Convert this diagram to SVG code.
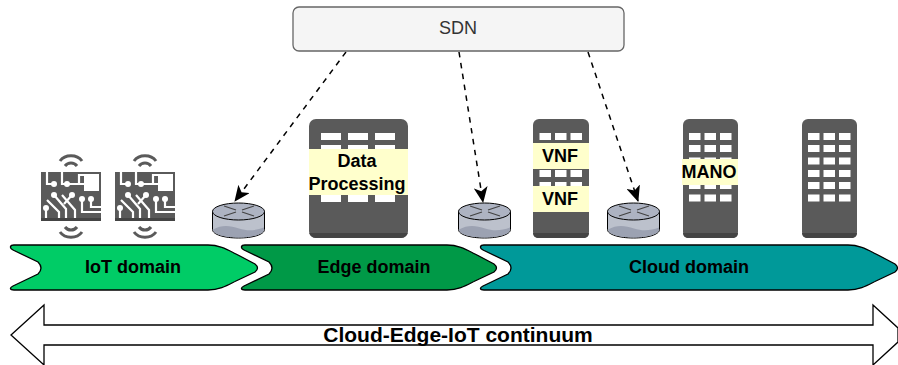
<svg xmlns="http://www.w3.org/2000/svg" width="898" height="365" viewBox="0 0 898 365">
<style>
text{font-family:"Liberation Sans",Arial,sans-serif;text-anchor:middle}
.b{font-weight:bold;font-size:18px;fill:#000}
.band{fill:#ffffcc}
.srv{fill:#5a5a5a}
.base{fill:#444}
.win{fill:#fff}
.dom{stroke:#000;stroke-width:1.3}
.conn{fill:none;stroke:#000;stroke-width:1.5;stroke-dasharray:5.500 5.500}
.tr{fill:none;stroke:#fff;stroke-width:2.200}
.wv{fill:none;stroke:#5a5a5a;stroke-width:3}
</style>
<defs>
<marker id="ah" viewBox="0 0 16 14" refX="15" refY="7" markerWidth="16" markerHeight="14" markerUnits="userSpaceOnUse" orient="auto"><path d="M0 0L16 7L0 14L4 7Z" fill="#000"/></marker>
<g id="router">
<path d="M0.5 9V27C0.5 32 12 35.500 26.500 35.500S52.500 32 52.500 27V9Z" fill="#bcc1cc" stroke="#000" stroke-width="1"/>
<path d="M1 27C10 22 18 23 27 26S44 28 52 25V27C52 32 40 35 26.500 35S1 32 1 27Z" fill="#9ca2b2"/>
<ellipse cx="26.500" cy="9" rx="26" ry="8.500" fill="#adb3c2" stroke="#000" stroke-width="1"/>
<path d="M12 3.500L24 7.500M12 13.500L24 9.500M30 7.500L42 3.500M30 9.500L42 13.500" fill="none" stroke="#444" stroke-width="1.300"/>
</g>
<g id="row3a"><rect class="win" x="0" width="11.500" height="7"/><rect class="win" x="15.500" width="11.500" height="7"/><rect class="win" x="31" width="11.500" height="7"/></g>
<g id="rows"><use href="#row3a" y="133"/><use href="#row3a" y="145"/><use href="#row3a" y="157.500"/><use href="#row3a" y="170"/><use href="#row3a" y="182"/><use href="#row3a" y="194.500"/></g>
<g id="chip">
<path class="wv" d="M-11 -7C-6 -14 6 -14 11 -7M-6 -2C-3 -6 3 -6 6 -2" transform="translate(30 -4)"/>
<path class="wv" d="M-11 7C-6 14 6 14 11 7M-6 2C-3 6 3 6 6 2" transform="translate(30 53)"/>
<rect x="0" width="60" height="49" fill="#5a5a5a"/>
<rect x="0" y="46" width="60" height="3" fill="#444"/>
<rect x="43" y="4" width="15" height="15" fill="#fff"/>
<g class="tr"><path d="M6 0V12H13M21 0V12H26M26 12H43M38 12V3H58M6 28L18 40V46M21 23L34 38V46M13 23L25 37V46M31 23L23 32M5 36V46M41 27V40H60M50 27V35H60"/></g>
<g fill="#fff"><circle cx="13" cy="12" r="3"/><circle cx="26" cy="12" r="3"/><circle cx="13" cy="23" r="3"/><circle cx="31" cy="23" r="3"/><circle cx="5" cy="36" r="3"/><circle cx="41" cy="27" r="3"/><circle cx="50" cy="27" r="3"/></g>
</g>
</defs>

<g id="connectors">
<path class="conn" d="M346 52L235 201" marker-end="url(#ah)"/>
<path class="conn" d="M459 52L483 202" marker-end="url(#ah)"/>
<path class="conn" d="M588 52L638 201" marker-end="url(#ah)"/>
</g>

<g id="sdn"><rect x="293" y="7" width="331" height="44" rx="6" fill="#f5f5f5" stroke="#666" stroke-width="1.300"/><text x="458" y="34" font-size="18" fill="#333">SDN</text></g>

<g id="iot-1"><use href="#chip" x="41" y="172"/></g>
<g id="iot-2"><use href="#chip" x="115" y="172"/></g>

<g id="router-1"><use href="#router" x="212" y="202.500"/></g>
<g id="router-2"><use href="#router" x="458" y="202.500"/></g>
<g id="router-3"><use href="#router" x="607" y="202.500"/></g>

<g id="server-data">
<rect class="srv" x="309" y="119" width="99" height="119" rx="7"/>
<path class="base" d="M309 233H408V231C408 235 405 238 401 238H316C312 238 309 235 309 231Z"/>
<g class="win"><rect x="321" y="133" width="20" height="7"/><rect x="348" y="133" width="20" height="7"/><rect x="375" y="133" width="20" height="7"/><rect x="321" y="145" width="20" height="7"/><rect x="348" y="145" width="20" height="7"/><rect x="375" y="145" width="20" height="7"/><rect x="321" y="195" width="20" height="7"/><rect x="348" y="195" width="20" height="7"/><rect x="375" y="195" width="20" height="7"/></g>
<rect class="band" x="309" y="149" width="99" height="46"/>
<text class="b" x="357" y="167">Data</text><text class="b" x="357" y="190">Processing</text>
</g>

<g id="server-vnf">
<rect class="srv" x="533" y="119" width="56" height="119" rx="6"/>
<path class="base" d="M533 233H589C589 236 587 238 583 238H539C535 238 533 236 533 233Z"/>
<use href="#rows" x="539.500"/>
<rect class="band" x="533" y="143" width="56" height="26"/><text class="b" x="560" y="161.500">VNF</text>
<rect class="band" x="533" y="186" width="56" height="26"/><text class="b" x="560" y="205">VNF</text>
</g>

<g id="server-mano">
<rect class="srv" x="683" y="119" width="55" height="119" rx="6"/>
<path class="base" d="M683 233H738C738 236 736 238 732 238H689C685 238 683 236 683 233Z"/>
<use href="#rows" x="689"/>
<rect class="band" x="682" y="159" width="56" height="26"/><text class="b" x="709" y="178">MANO</text>
</g>

<g id="server-4">
<rect class="srv" x="802" y="119" width="55" height="119" rx="6"/>
<path class="base" d="M802 233H857C857 236 855 238 851 238H808C804 238 802 236 802 233Z"/>
<use href="#rows" x="808"/>
</g>

<g id="domain-iot"><path class="dom" fill="#00cc66" d="M14 245H208C220 245 228 250 236 254L255 264Q260 268 255 272L236 281C228 285 220 290 208 290H14C10 290 9 288 13 286L38 274Q44 268 38 262L13 250C9 248 10 245 14 245Z"/><text class="b" x="133" y="273">IoT domain</text></g>
<g id="domain-edge"><path class="dom" fill="#009947" d="M245 245H447C459 245 467 250 475 254L494 264Q499 268 494 272L475 281C467 285 459 290 447 290H245C241 290 240 288 244 286L269 274Q275 268 269 262L244 250C240 248 241 245 245 245Z"/><text class="b" x="374" y="273">Edge domain</text></g>
<g id="domain-cloud"><path class="dom" fill="#009999" d="M484 245H848C860 245 868 250 876 254L895 264Q900 268 895 272L876 281C868 285 860 290 848 290H484C480 290 479 288 483 286L508 274Q514 268 508 262L483 250C479 248 480 245 484 245Z"/><text class="b" x="689" y="273">Cloud domain</text></g>

<g id="continuum"><path d="M11 335L44 305V325H873V305L898 328V342L873 365V345H44V365Z" fill="#fff" stroke="#000" stroke-width="1.300"/><text x="458" y="342" font-size="21" font-weight="bold" fill="#000">Cloud-Edge-IoT continuum</text></g>
</svg>
